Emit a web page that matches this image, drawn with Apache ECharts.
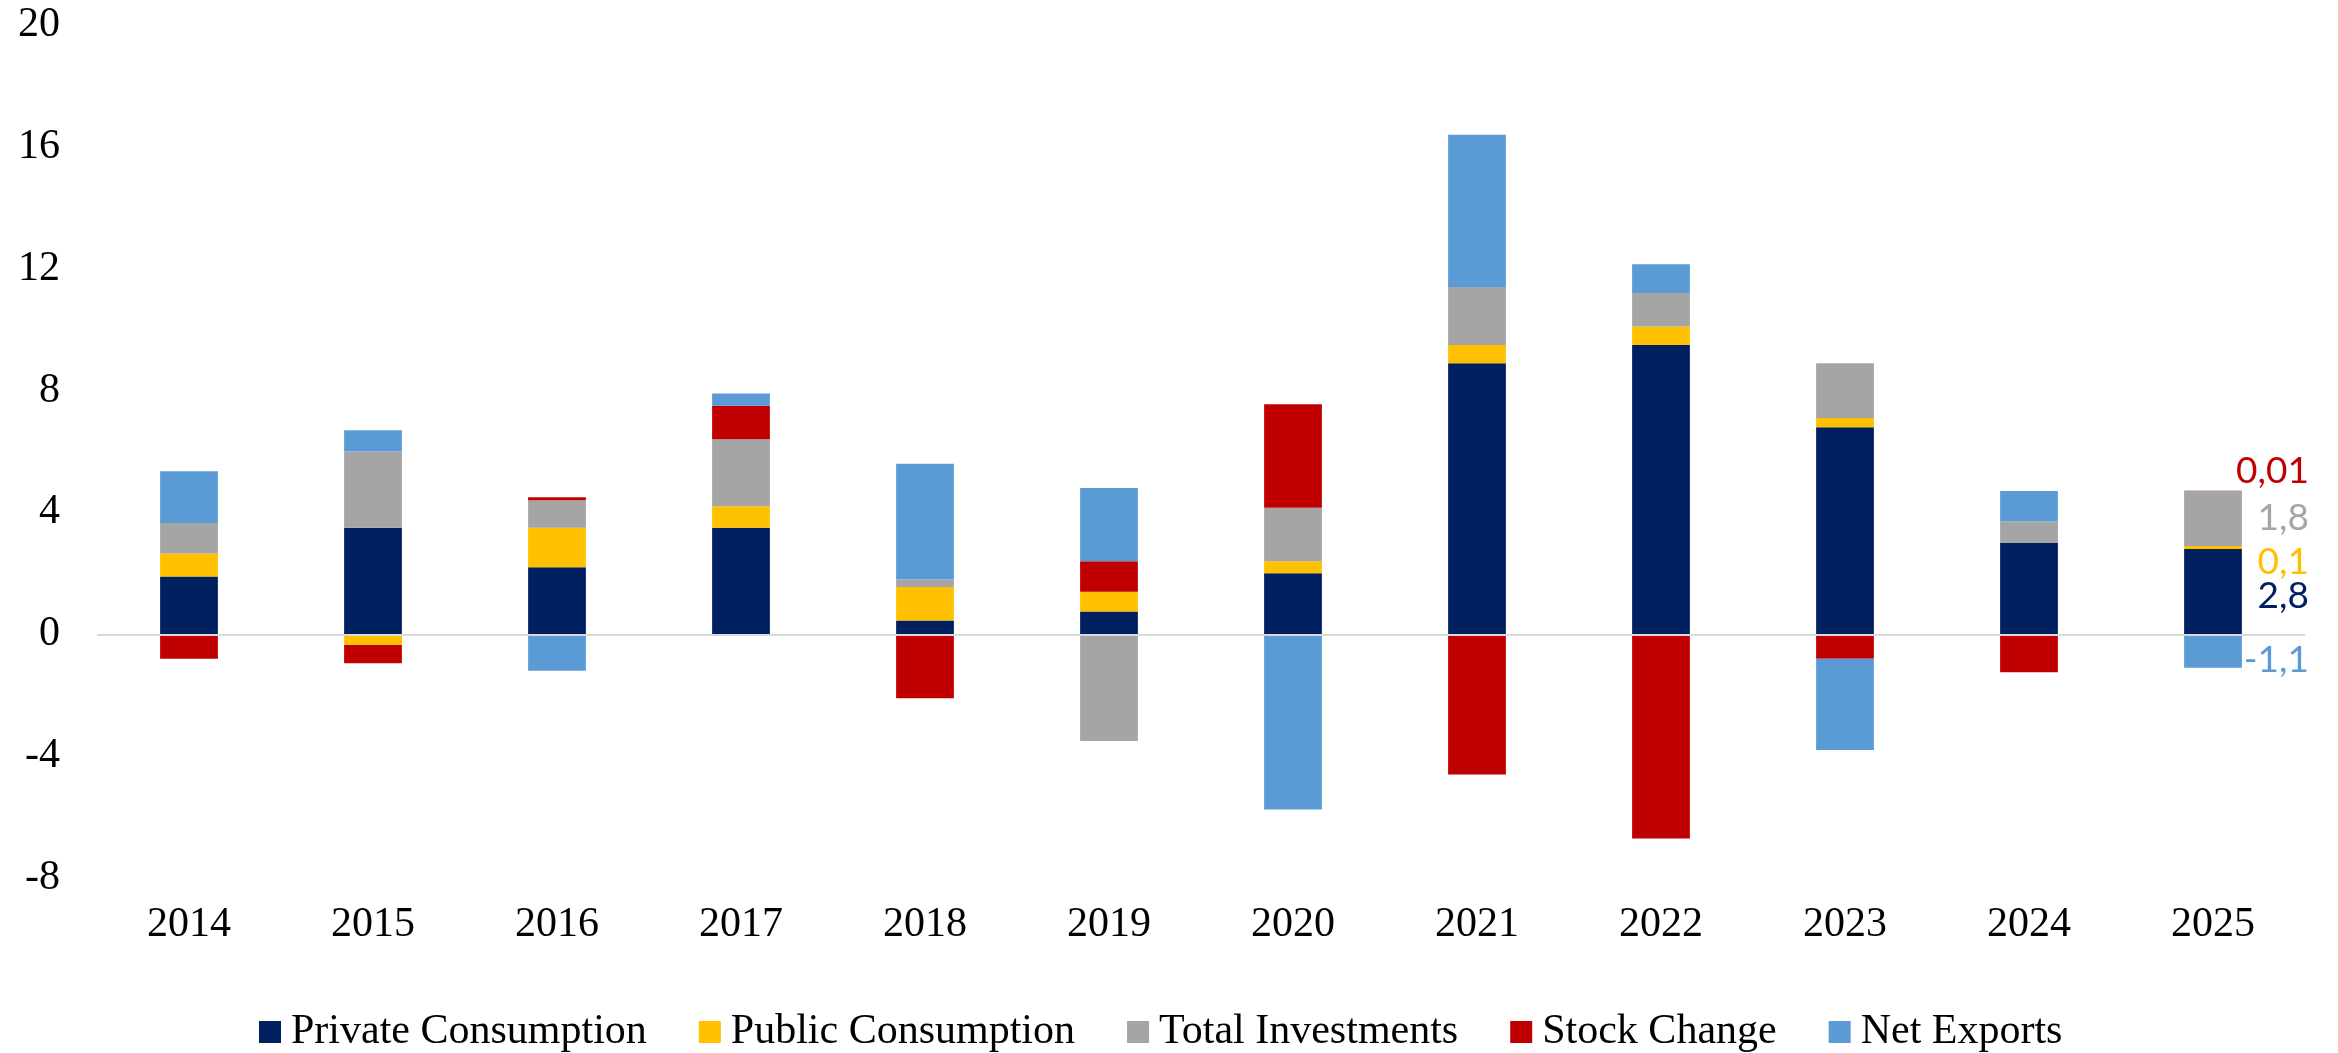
<!DOCTYPE html>
<html>
<head>
<meta charset="utf-8">
<script src="https://cdn.jsdelivr.net/npm/echarts@6/dist/echarts.min.js"></script>
<style>
  html, body { margin: 0; padding: 0; background: #fff; }
  #chart { width: 2338px; height: 1053px; }
</style>
</head>
<body>
<div id="chart"></div>
<script>
// contributions to growth, percentage points
var years = ["2014", "2015", "2016", "2017", "2018", "2019", "2020", "2021", "2022", "2023", "2024", "2025"];
var privateCons = [1.9, 3.5, 2.2, 3.5, 0.45, 0.75, 2.0, 8.9, 9.5, 6.8, 3.0, 2.8];
var publicCons = [0.75, -0.35, 1.3, 0.7, 1.1, 0.65, 0.4, 0.6, 0.6, 0.3, -0.05, 0.1];
var totalInv = [1.0, 2.5, 0.9, 2.2, 0.25, -3.5, 1.75, 1.9, 1.1, 1.8, 0.7, 1.8];
var stockChange = [-0.8, -0.6, 0.1, 1.1, -2.1, 1.0, 3.4, -4.6, -6.7, -0.8, -1.2, 0.01];
var netExports = [1.7, 0.7, -1.2, 0.4, 3.8, 2.4, -5.75, 5.0, 0.95, -3.0, 1.0, -1.1];
var yTicks = { min: -8, max: 20, step: 4 };

var serif = "Liberation Serif";
var labelFont = "Lato";

// only the last year gets value labels, placed to the right of the bar
function lastLabel(color, dy) {
  return {
    show: true,
    position: "right",
    distance: 67,
    align: "right",
    offset: [0, dy],
    color: color,
    fontFamily: labelFont,
    fontSize: 37,
    formatter: function (p) {
      return String(p.value).replace(".", ",");
    },
  };
}

function makeData(values, color, dy) {
  return values.map(function (v, i) {
    if (i === values.length - 1) {
      return { value: v, label: lastLabel(color, dy) };
    }
    return v;
  });
}

var series = [
  { name: "Private Consumption", color: "#002060", values: privateCons, dy: 4 },
  { name: "Public Consumption", color: "#FFC000", values: publicCons, dy: 15 },
  { name: "Total Investments", color: "#A5A5A5", values: totalInv, dy: 0 },
  { name: "Stock Change", color: "#C00000", values: stockChange, dy: -20 },
  { name: "Net Exports", color: "#5B9BD5", values: netExports, dy: 9 },
].map(function (s, idx) {
  var item = {
    name: s.name,
    type: "bar",
    stack: "gdp",
    barWidth: "31.4%",
    itemStyle: { color: s.color },
    label: { show: false },
    data: makeData(s.values, s.color, s.dy),
  };
  if (idx === 0) {
    // zero line
    item.markLine = {
      silent: true,
      symbol: "none",
      label: { show: false },
      lineStyle: { color: "#d9d9d9", width: 2, type: "solid" },
      data: [{ yAxis: 0 }],
    };
  }
  return item;
});

var chart = echarts.init(document.getElementById("chart"));
chart.setOption({
  animation: false,
  backgroundColor: "#fff",
  grid: { left: 97, right: 33, top: 25, bottom: 175, containLabel: false },
  legend: {
    left: 254,
    top: 1006,
    icon: "rect",
    itemWidth: 22,
    itemHeight: 22,
    itemGap: 52,
    textStyle: {
      fontFamily: serif,
      fontSize: 42,
      color: "#000",
      padding: [0, 0, 0, 5],
    },
    data: series.map(function (s) { return s.name; }),
  },
  xAxis: {
    type: "category",
    data: years,
    axisLine: { show: false, onZero: false },
    axisTick: { show: false },
    axisLabel: { margin: 26, fontFamily: serif, fontSize: 42, color: "#000" },
  },
  yAxis: {
    type: "value",
    min: yTicks.min,
    max: yTicks.max,
    interval: yTicks.step,
    splitLine: { show: false },
    axisLine: { show: false },
    axisTick: { show: false },
    axisLabel: { margin: 37, fontFamily: serif, fontSize: 42, color: "#000" },
  },
  series: series,
});
</script>
</body>
</html>
